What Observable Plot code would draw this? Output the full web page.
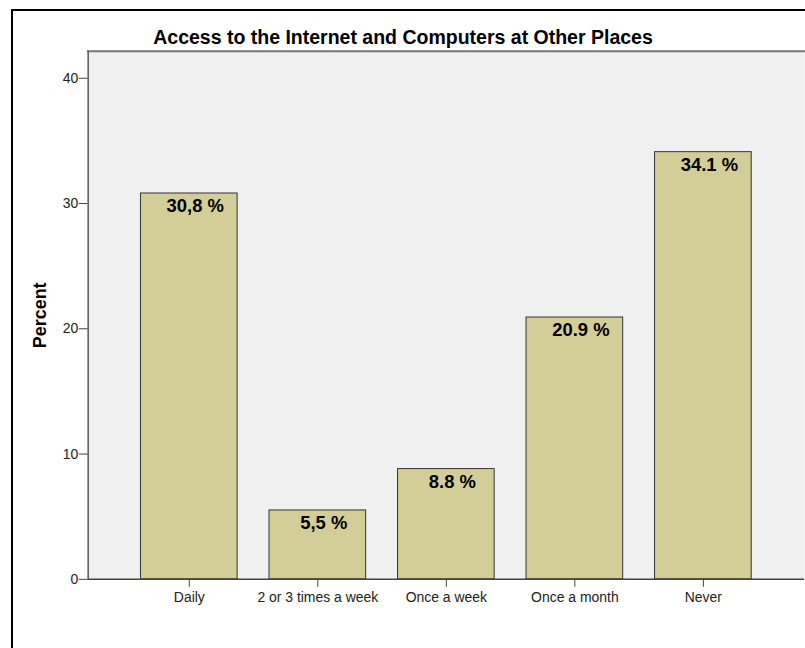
<!DOCTYPE html>
<html>
<head>
<meta charset="utf-8">
<script src="https://cdn.jsdelivr.net/npm/d3@7"></script>
<script src="https://cdn.jsdelivr.net/npm/@observablehq/plot@0.6"></script>
<style>
  html, body { margin: 0; padding: 0; background: #fff; overflow: hidden; width: 805px; height: 648px; }
  #wrap { position: relative; width: 805px; height: 648px; overflow: hidden; font-family: "Liberation Sans", Arial, sans-serif; }
  #border { position: absolute; left: 11px; top: 9px; width: 1000px; height: 1000px; border: 2px solid #000; box-sizing: border-box; }
  #chart { position: absolute; left: 0; top: 0; }
  #title { position: absolute; left: 0; top: 27.5px; width: 806px; text-align: center; font-weight: bold; font-size: 19.5px; line-height: 1; color: #000; }
</style>
</head>
<body>
<div id="wrap">
  <div id="border"></div>
  <div id="chart"></div>
  <div id="title">Access to the Internet and Computers at Other Places</div>
</div>
<script>
const categories = ["Daily", "2 or 3 times a week", "Once a week", "Once a month", "Never"];
const percents = [30.8, 5.5, 8.8, 20.9, 34.1];
const valueLabels = ["30,8 %", "5,5 %", "8.8 %", "20.9 %", "34.1 %"];
const yTicks = [0, 10, 20, 30, 40];

const data = categories.map((c, i) => ({category: c, percent: percents[i], label: valueLabels[i]}));

const chart = Plot.plot({
  width: 808,
  height: 648,
  marginLeft: 88,
  marginRight: 1,
  marginTop: 51,
  marginBottom: 67,
  style: {fontFamily: "'Liberation Sans', Arial, sans-serif", background: "transparent", overflow: "visible"},
  x: {domain: categories, paddingInner: 0.25, paddingOuter: 0.4, label: null},
  y: {domain: [0, 42.15], label: null},
  marks: [
    Plot.frame({fill: "#f0f0f0", stroke: "none"}),
    Plot.frame({anchor: "top", stroke: "#777", strokeWidth: 2}),
    Plot.barY(data, {x: "category", y: "percent", fill: "#d3ce97", stroke: "#333", strokeWidth: 1}),
    Plot.text(data, {x: "category", y: "percent", text: "label", dy: 13, dx: 6, fontSize: 18.5, fontWeight: "bold", fill: "#000"}),
    Plot.axisY({ticks: yTicks, tickSize: 9, fontSize: 14, stroke: "#444", color: "#222", tickPadding: 1, label: "Percent", labelAnchor: "center", labelArrow: "none", labelOffset: 55}),
    Plot.axisX({tickSize: 8, fontSize: 14, stroke: "#444", color: "#222", tickPadding: 5, label: null}),
    Plot.ruleY([0], {stroke: "#444", strokeWidth: 1.5}),
    Plot.frame({anchor: "left", stroke: "#555", strokeWidth: 1.5})
  ]
});
document.getElementById("chart").appendChild(chart);
chart.querySelectorAll("g[aria-label='y-axis label'] text").forEach(t => { t.setAttribute("font-weight", "bold"); t.setAttribute("font-size", 18); t.setAttribute("fill", "#000"); });
</script>
</body>
</html>
